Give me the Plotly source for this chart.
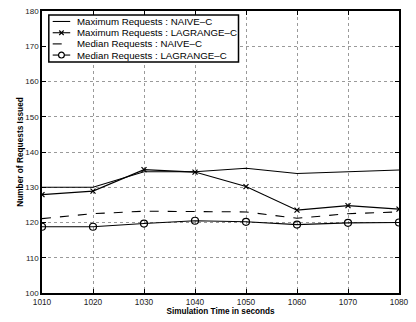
import plotly.graph_objects as go

times = [1010, 1020, 1030, 1040, 1050, 1060, 1070, 1080]
max_naive = [130.0, 130.0, 134.4, 134.4, 135.4, 133.9, 134.4, 134.9]
max_lagrange = [127.9, 128.9, 135.0, 134.3, 130.2, 123.5, 124.8, 123.8]
med_naive = [121.1, 122.5, 123.2, 123.2, 123.0, 121.2, 122.5, 123.0]
med_lagrange = [118.8, 118.8, 119.7, 120.5, 120.2, 119.4, 119.9, 120.0]

labels = ["Maximum Requests : NAIVE\u2013C", "Maximum Requests : LAGRANGE\u2013C",
          "Median Requests : NAIVE\u2013C", "Median Requests : LAGRANGE\u2013C"]
series = [max_naive, max_lagrange, med_naive, med_lagrange]
dashes = ["solid", "solid", "dash", "solid"]
symbols = [None, "x-thin-open", None, "circle-open"]
msizes = [0, 5, 0, 7]

x_ticks = [1010, 1020, 1030, 1040, 1050, 1060, 1070, 1080]
y_ticks = [100, 110, 120, 130, 140, 150, 160, 170, 180]

FONT = "Liberation Sans, Arial, Helvetica, sans-serif"

fig = go.Figure()
for ys, lab, d, s, ms in zip(series, labels, dashes, symbols, msizes):
    fig.add_trace(go.Scatter(
        x=times, y=ys, name=lab,
        mode="lines+markers" if s else "lines",
        line=dict(color="black", width=1.1, dash=d),
        marker=dict(symbol=s or "circle", size=ms, color="black",
                    line=dict(color="black", width=1.2)),
        showlegend=False,
    ))

# custom legend drawn in pixel-like overlay coordinates
L, R, T, B = 42, 409, 10, 298
box = dict(x0=49, x1=244, y0=14, y1=62)
row_y = [20.7, 32.2, 43.6, 55.0]
sym_x = 62
ln = dict(color="black", width=1.1)
shapes = [dict(type="rect", xref="x2", yref="y2", x0=box["x0"], x1=box["x1"],
               y0=box["y0"], y1=box["y1"], line=dict(color="black", width=1.5),
               fillcolor="white", layer="above")]
annotations = []
for i, (lab, d, s) in enumerate(zip(labels, dashes, symbols)):
    y = row_y[i]
    shapes.append(dict(type="line", xref="x2", yref="y2", x0=53, x1=71, y0=y, y1=y,
                       line=dict(color="black", width=1.1, dash="dash" if d == "dash" else "solid"),
                       layer="above"))
    if s == "x-thin-open":
        for sgn in (1, -1):
            shapes.append(dict(type="line", xref="x2", yref="y2",
                               x0=sym_x - 2.3, x1=sym_x + 2.3, y0=y - 2.3 * sgn, y1=y + 2.3 * sgn,
                               line=ln, layer="above"))
    elif s == "circle-open":
        shapes.append(dict(type="circle", xref="x2", yref="y2",
                           x0=sym_x - 3, x1=sym_x + 3, y0=y - 3, y1=y + 3,
                           line=dict(color="black", width=1.2), fillcolor="white", layer="above"))
    annotations.append(dict(xref="x2", yref="y2", x=76, y=y, text=lab,
                            showarrow=False, xanchor="left", yanchor="middle",
                            font=dict(family=FONT, size=9.7, color="black")))

# invisible anchor trace so the overlay axes exist
fig.add_trace(go.Scatter(x=[L], y=[B], xaxis="x2", yaxis="y2", mode="markers",
                         marker=dict(size=0.1, opacity=0), showlegend=False, hoverinfo="skip"))

fig.update_layout(
    width=416, height=322,
    margin=dict(l=L, r=416 - R, t=T, b=322 - B, pad=0),
    paper_bgcolor="white", plot_bgcolor="white",
    showlegend=False,
    font=dict(family=FONT, size=8, color="black"),
    xaxis=dict(
        range=[1010, 1080], tickvals=x_ticks, ticktext=[str(v) for v in x_ticks],
        showgrid=True, gridcolor="#9a9a9a", griddash="dot", gridwidth=1,
        showline=True, linecolor="black", linewidth=1.5, mirror="ticks",
        ticks="inside", ticklen=4, tickcolor="black",
        tickfont=dict(size=8.3, family=FONT, color="#222"),
        ticklabeloverflow="allow",
        zeroline=False,
        title=dict(text="<b>Simulation Time in seconds</b>", font=dict(size=8.2, family=FONT), standoff=3),
    ),
    yaxis=dict(
        range=[100, 180], tickvals=y_ticks, ticktext=[str(v) for v in y_ticks],
        showgrid=True, gridcolor="#9a9a9a", griddash="dot", gridwidth=1,
        showline=True, linecolor="black", linewidth=1.5, mirror="ticks",
        ticks="inside", ticklen=4, tickcolor="black",
        tickfont=dict(size=8, family=FONT, color="#222"),
        zeroline=False,
        title=dict(text="<b>Number of Requests Issued</b>", font=dict(size=8.3, family=FONT), standoff=0),
    ),
    xaxis2=dict(range=[L, R], overlaying="x", visible=False, fixedrange=True),
    yaxis2=dict(range=[B, T], overlaying="y", visible=False, fixedrange=True),
    shapes=shapes,
    annotations=annotations,
)

fig.write_html("out.html")
